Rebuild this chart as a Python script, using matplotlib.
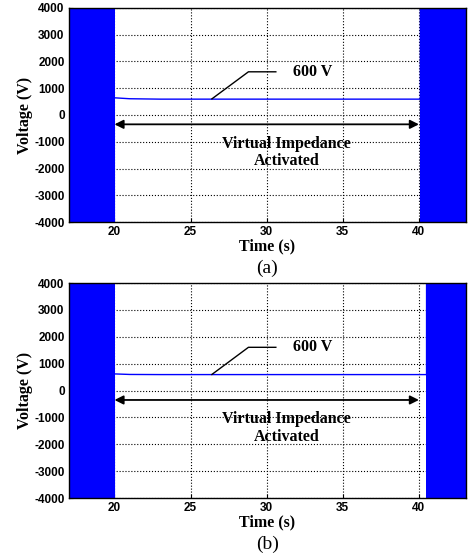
import matplotlib.pyplot as plt
import numpy as np

# steady dc-link voltage while the virtual impedance is active
flat_t_a = [20.0, 21.0, 23.0, 40.1]
flat_a = [640, 605, 590, 590]
flat_t_b = [20.0, 21.0, 23.0, 40.5]
flat_b = [620, 600, 595, 595]

# oscillation outside the active window (start, end, amplitude, frequency)
osc_a = [(17.0, 20.0, 6000.0, 50.0), (40.1, 43.2, 6000.0, 50.0)]
osc_b = [(17.0, 20.0, 6000.0, 50.0), (40.5, 43.2, 6000.0, 50.0)]

yticks = [-4000, -3000, -2000, -1000, 0, 1000, 2000, 3000, 4000]
xticks = [20, 25, 30, 35, 40]

plt.rcParams['font.family'] = ['Liberation Sans', 'DejaVu Sans']
plt.rcParams['axes.unicode_minus'] = False

def osc(start, end, amp, f, dt=0.0061):
	t = np.arange(start, end, dt)
	return t, 600 + amp * np.sin(2 * np.pi * f * t)

def panel(ax, ft, flat, osc_list, caption):
	for (s, e, a, f) in osc_list:
		t, v = osc(s, e, a, f)
		ax.plot(t, v, color='#0000ff', lw=1.0)
	ax.plot(ft, flat, color='#0000ff', lw=1.0)
	ax.set_xlim(17, 43.1)
	ax.set_ylim(-4000, 4000)
	ax.set_xticks(xticks)
	ax.set_yticks(yticks)
	ax.grid(True, color='black', linestyle=':', linewidth=0.8)
	ax.tick_params(direction='in', length=3, labelsize=8.5, pad=3)
	for lab in ax.get_xticklabels() + ax.get_yticklabels():
		lab.set_fontweight('bold')
	for sp in ax.spines.values():
		sp.set_linewidth(1.0)
	ax.set_xlabel('Time (s)', family='Liberation Serif', fontweight='bold', fontsize=11.5, labelpad=0)
	ax.set_ylabel('Voltage (V)', family='Liberation Serif', fontweight='bold', fontsize=11.5, labelpad=1)
	ax.annotate('', xy=(20.0, -350), xytext=(40.0, -350),
		arrowprops=dict(arrowstyle='<|-|>', color='black', lw=1.3, mutation_scale=13, shrinkA=0, shrinkB=0))
	ax.text(31.3, -1400, 'Virtual Impedance\nActivated', ha='center', va='center',
		family='Liberation Serif', fontweight='bold', fontsize=11.5, linespacing=1.15)
	ax.plot([26.4, 28.8, 30.6], [600, 1610, 1610], color='black', lw=1.0)
	ax.text(31.7, 1610, '600 V', ha='left', va='center', family='Liberation Serif',
		fontweight='bold', fontsize=11.5)
	ax.text(0.5, -0.215, caption, transform=ax.transAxes, ha='center', va='center',
		family='Liberation Serif', fontsize=14)

fig = plt.figure(figsize=(4.68, 5.54), dpi=100)
ax1 = fig.add_axes([0.147, 0.599, 0.849, 0.387])
ax2 = fig.add_axes([0.147, 0.101, 0.849, 0.388])
panel(ax1, flat_t_a, flat_a, osc_a, '(a)')
panel(ax2, flat_t_b, flat_b, osc_b, '(b)')
fig.savefig('out.png', dpi=100)
